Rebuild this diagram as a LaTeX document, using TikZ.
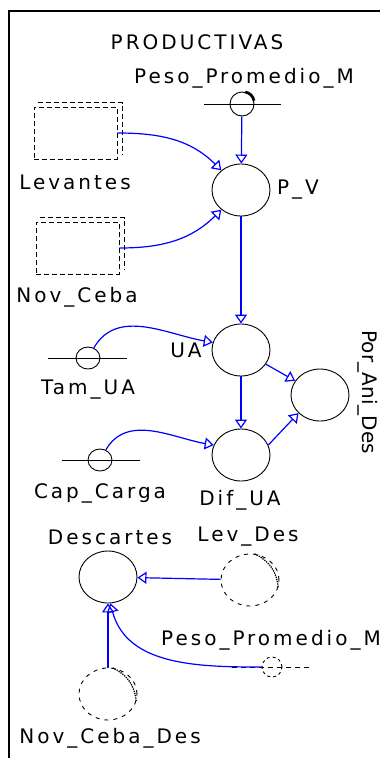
\documentclass[tikz,border=0pt]{standalone}
\usepackage{fontspec}
\setmainfont[LetterSpace=15]{DejaVu Sans}
\usetikzlibrary{arrows.meta,shapes.geometric,positioning}

\tikzset{
  aux/.style={draw, ellipse, line width=0.9pt, minimum width=58pt, minimum height=52pt, inner sep=0pt},
  ghostaux/.style={aux, dash pattern=on 4pt off 5pt},
  cnst/.style={draw, ellipse, line width=0.9pt, minimum width=24pt, minimum height=22pt, inner sep=0pt},
  ghostbox/.style={draw, dash pattern=on 5pt off 3pt, line width=0.9pt, inner sep=0pt},
  lbl/.style={font=\fontsize{20}{23}\selectfont, inner sep=0pt},
  link/.style={blue, line width=1.2pt, -{Triangle[open, width=12pt, length=9pt]}}
}

\begin{document}
\begin{tikzpicture}[x=1pt, y=-1pt]
  \useasboundingbox (0,0) rectangle (380,758);
  % frame
  \draw[line width=1.3pt] (9,758) -- (9,11) -- (380,11);
  \node[lbl] (title) at (197,42) {PRODUCTIVAS};

  % stocks from other sectors
  \node[ghostbox, minimum width=83pt, minimum height=52pt] (levantes) at (75.5,133) {};
  \draw[dash pattern=on 5pt off 3pt, line width=0.9pt] ([shift={(4pt,4pt)}]levantes.north west) -- ([shift={(5pt,4pt)}]levantes.north east) -- ([shift={(5pt,4pt)}]levantes.south east);
  \node[lbl] (levanteslbl) at (75,182) {Levantes};
  \node[ghostbox, minimum width=83pt, minimum height=52pt] (novceba) at (77.5,248) {};
  \draw[dash pattern=on 5pt off 3pt, line width=0.9pt] ([shift={(4pt,4pt)}]novceba.north west) -- ([shift={(5pt,4pt)}]novceba.north east) -- ([shift={(5pt,4pt)}]novceba.south east);
  \node[lbl] (novcebalbl) at (77,297) {Nov\_Ceba};

  % peso promedio
  \node[lbl] (pesolbl) at (244,78) {Peso\_Promedio\_M};
  \node[cnst, minimum width=24pt, minimum height=24pt] (peso) at (242,104) {};
  \draw[line width=0.9pt] (204,104) -- (281,104);
  \draw[line width=2.6pt] (peso.75) to[bend left=35] (peso.15);

  % auxiliaries
  \node[aux] (pv) at (241,190) {};
  \node[lbl] (pvlbl) at (298,190) {P\_V};
  \node[aux] (ua) at (241,350) {};
  \node[lbl] (ualbl) at (186,350) {UA};
  \node[aux] (difua) at (241,455) {};
  \node[lbl] (difualbl) at (240,500) {Dif\_UA};
  \node[aux] (porani) at (320,395) {};
  \node[lbl, rotate=-90] (poranilbl) at (368,392) {\addfontfeature{LetterSpace=1}Por\_Ani\_Des};

  % constants
  \node[cnst] (tamua) at (88,358) {};
  \draw[line width=0.9pt] (48,358) -- (127,358);
  \node[lbl] (tamualbl) at (88,390) {Tam\_UA};
  \node[cnst] (capcarga) at (100,460) {};
  \draw[line width=0.9pt] (62,460) -- (140,460);
  \node[lbl] (capcargalbl) at (100,493) {Cap\_Carga};

  % descartes
  \node[aux] (descartes) at (108,577) {};
  \node[lbl] (descarteslbl) at (110,537) {Descartes};
  \node[ghostaux] (levdes) at (250,580) {};
  \draw[densely dotted, line width=1.3pt] (levdes.80) to[bend left=30] (levdes.-15);
  \node[lbl] (levdeslbl) at (248,537) {Lev\_Des};
  \node[ghostaux] (novcebades) at (108,694) {};
  \draw[densely dotted, line width=1.3pt] (novcebades.80) to[bend left=30] (novcebades.-15);
  \node[lbl] (novcebadeslbl) at (110,738) {Nov\_Ceba\_Des};
  \node[cnst, dash pattern=on 3pt off 3pt, minimum width=20pt, minimum height=20pt] (peso2) at (272,667) {};
  \draw[dash pattern=on 5pt off 4pt, line width=0.9pt] (232,667) -- (310,667);
  \node[lbl] (peso2lbl) at (271,640) {Peso\_Promedio\_M};

  % links
  \draw[link] (peso) -- (pv);
  \draw[link] (levantes.east) to[out=0, in=135] (pv.135);
  \draw[link] (novceba.east) to[out=0, in=225] (pv.225);
  \draw[link] (pv) -- (ua);
  \draw[link] (tamua.60) to[out=60, in=170] (ua.165);
  \draw[link] (ua) -- (porani);
  \draw[link] (ua) -- (difua);
  \draw[link] (capcarga.60) to[out=60, in=170] (difua.160);
  \draw[link] (difua.20) -- (porani.220);
  \draw[link] (levdes) -- (descartes);
  \draw[link] (novcebades) -- (descartes);
  \draw[link] (peso2.west) to[out=180, in=-75] (descartes.-85);
\end{tikzpicture}
\end{document}
